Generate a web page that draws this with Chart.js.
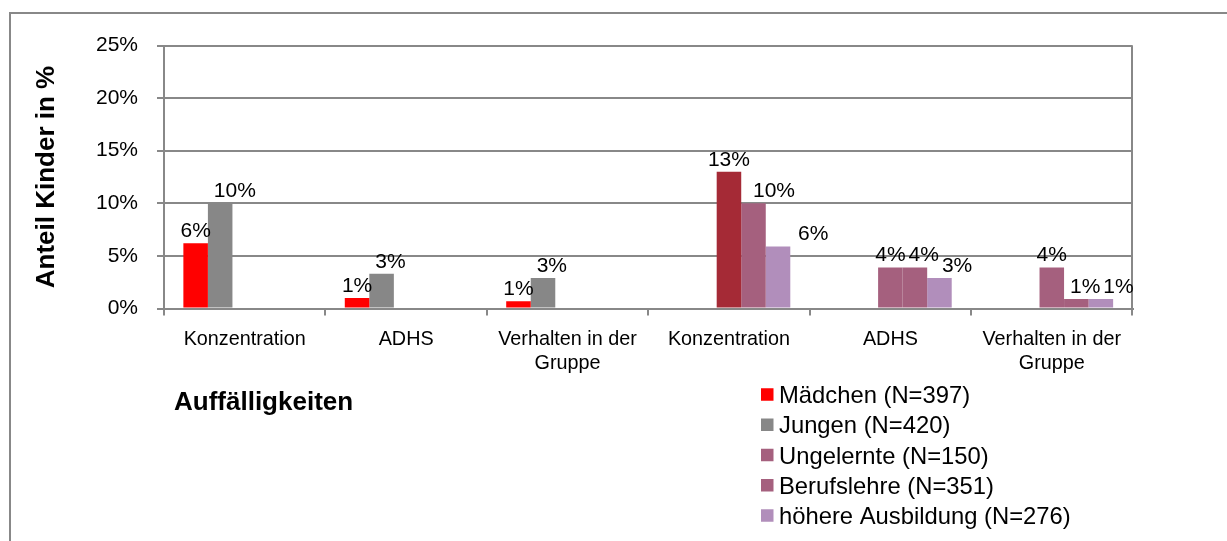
<!DOCTYPE html>
<html><head><meta charset="utf-8">
<script src="https://cdn.jsdelivr.net/npm/chart.js@4/dist/chart.umd.min.js"></script>
<style>html,body{margin:0;padding:0;background:#fff;} canvas{display:block;}</style>
</head><body>
<canvas id="c" width="1227" height="541"></canvas>
<script>
// ---- data ----
const categories = ['Konzentration', 'ADHS', ['Verhalten in der', 'Gruppe'], 'Konzentration', 'ADHS', ['Verhalten in der', 'Gruppe']];
const seriesNames = ['Mädchen (N=397)', 'Jungen (N=420)', 'Ungelernte (N=150)', 'Berufslehre (N=351)', 'höhere Ausbildung (N=276)'];
const maedchen    = [6.2, 1.0, 0.7, null, null, null];
const jungen      = [10.0, 3.3, 2.9, null, null, null];
const ungelernte  = [null, null, null, 13.0, 3.9, 3.9];
const berufslehre = [null, null, null, 10.0, 3.9, 0.9];
const hoehere     = [null, null, null, 5.9, 2.9, 0.9];
const yTickValues = [0, 5, 10, 15, 20, 25];
const yTickLabels = ['0%', '5%', '10%', '15%', '20%', '25%'];
const yTitle = 'Anteil Kinder in %';
const xTitle = 'Auffälligkeiten';

// ---- styles ----
const FONT = '"Liberation Sans", Arial, sans-serif';
const C_RED = '#FF0000', C_GRAY = '#878787', C_DARKRED = '#A52A36', C_MAUVE = '#A5607E', C_LILAC = '#B18EBB';
const LINE = '#888888';
const legendColors = [C_RED, C_GRAY, C_MAUVE, C_MAUVE, C_LILAC];
const barColors = [
  C_RED,
  C_GRAY,
  (ctx) => (ctx.type === 'data' && ctx.dataIndex === 3) ? C_DARKRED : C_MAUVE,
  C_MAUVE,
  C_LILAC
];
const seriesData = [maedchen, jungen, ungelernte, berufslehre, hoehere];

const datasets = seriesData.map((d, i) => ({
  label: seriesNames[i],
  data: d,
  backgroundColor: barColors[i],
  borderWidth: 0
}));

const decoPlugin = {
  id: 'deco',
  afterDatasetsDraw(chart) {
    const ctx = chart.ctx;
    ctx.save();
    ctx.font = '21px ' + FONT;
    ctx.fillStyle = '#000';
    ctx.textAlign = 'left';
    ctx.textBaseline = 'alphabetic';
    const nCat = chart.data.labels.length;
    for (let j = 0; j < nCat; j++) {
      const items = [];
      chart.data.datasets.forEach((ds, i) => {
        const v = ds.data[j];
        if (v === null || v === undefined) return;
        const bar = chart.getDatasetMeta(i).data[j];
        const txt = Math.round(v) + '%';
        const w = ctx.measureText(txt).width;
        items.push({ txt, w, left: bar.x - w / 2, y: bar.y - 6 });
      });
      items.sort((a, b) => a.left - b.left);
      let prevRight = -Infinity;
      items.forEach(it => {
        if (it.left < prevRight + 3) it.left = prevRight + 3;
        prevRight = it.left + it.w;
        ctx.fillText(it.txt, it.left, it.y);
      });
    }
    ctx.restore();
  },
  afterDraw(chart) {
    const ctx = chart.ctx;
    ctx.save();
    // outer frame (left and top edges visible)
    ctx.strokeStyle = LINE;
    ctx.lineWidth = 2;
    ctx.beginPath();
    ctx.moveTo(10, 541);
    ctx.lineTo(10, 13);
    ctx.lineTo(1227, 13);
    ctx.stroke();
    // x title
    ctx.fillStyle = '#000';
    ctx.font = 'bold 26px ' + FONT;
    ctx.textAlign = 'left';
    ctx.textBaseline = 'alphabetic';
    ctx.fillText(xTitle, 174, 409.5);
    // legend
    ctx.font = '23.8px ' + FONT;
    chart.data.datasets.forEach((ds, i) => {
      const cy = 394.5 + i * 30.25;
      ctx.fillStyle = legendColors[i];
      ctx.fillRect(761, cy - 6.25, 12.5, 12.5);
      ctx.fillStyle = '#000';
      ctx.fillText(ds.label, 779, cy + 8.5);
    });
    ctx.restore();
  }
};

new Chart(document.getElementById('c'), {
  type: 'bar',
  data: { labels: categories, datasets: datasets },
  options: {
    responsive: false,
    animation: false,
    devicePixelRatio: 1,
    layout: { padding: { left: 0, top: 45.5, right: 94.5, bottom: 0 } },
    datasets: { bar: { categoryPercentage: 0.76, barPercentage: 1.0 } },
    plugins: { legend: { display: false }, tooltip: { enabled: false } },
    scales: {
      x: {
        grid: {
          offset: true,
          drawOnChartArea: true,
          color: (ctx) => ctx.type === 'tick' ? 'rgba(0,0,0,0)' : LINE,
          tickColor: LINE,
          tickLength: 7,
          lineWidth: 2
        },
        border: { color: LINE, width: 2 },
        ticks: { font: { family: FONT, size: 19.8 }, color: '#000', padding: 12, maxRotation: 0, autoSkip: false },
        afterFit(s) { s.height = 232.5; }
      },
      y: {
        min: 0, max: 25,
        afterBuildTicks(s) { s.ticks = yTickValues.map(v => ({ value: v })); },
        ticks: {
          font: { family: FONT, size: 21 }, color: '#000', padding: 19,
          callback: (v) => yTickLabels[yTickValues.indexOf(v)]
        },
        grid: { color: LINE, lineWidth: 2, tickLength: 7, tickColor: LINE },
        border: { color: LINE, width: 2 },
        title: {
          display: true, text: yTitle, color: '#000',
          font: { family: FONT, size: 26, weight: 'bold' },
          padding: { top: 31, bottom: 0 }
        },
        afterFit(s) { s.width = 164; }
      }
    }
  },
  plugins: [decoPlugin]
});
</script>
</body></html>
